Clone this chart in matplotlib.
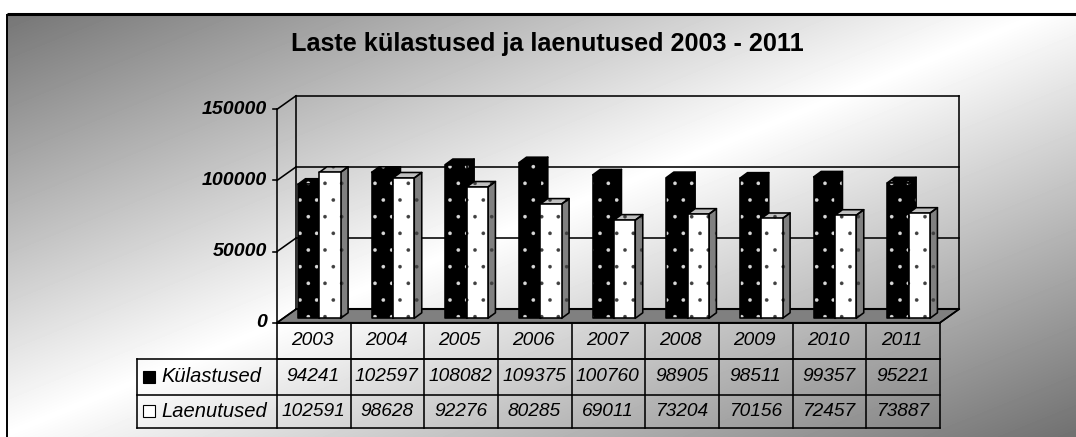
import numpy as np
import matplotlib
matplotlib.use('Agg')
import matplotlib.pyplot as plt
from matplotlib.patches import Polygon

plt.rcParams['font.family'] = ['Liberation Sans', 'DejaVu Sans']
plt.rcParams['hatch.linewidth'] = 0.2

title = 'Laste külastused ja laenutused 2003 - 2011'
years = ['2003', '2004', '2005', '2006', '2007', '2008', '2009', '2010', '2011']
visits = [94241, 102597, 108082, 109375, 100760, 98905, 98511, 99357, 95221]
loans = [102591, 98628, 92276, 80285, 69011, 73204, 70156, 72457, 73887]
visits_name = 'Külastused'
loans_name = 'Laenutused'
y_ticks = [0, 50000, 100000, 150000]

W, H = 1076, 437
fig = plt.figure(figsize=(W / 100, H / 100), dpi=100)

# background gradient, dark in two corners, white on the other diagonal
bg = fig.add_axes([0, 0, 1, 1], zorder=0)
xx, yy = np.meshgrid(np.linspace(0, 1, W), np.linspace(0, 1, H))
grad = 1 - 0.56 * np.abs(xx + yy - 1)
grad[:14, :] = 1
grad[:, :7] = 1
bg.imshow(grad, cmap='gray', vmin=0, vmax=1, extent=[0, W, H, 0], aspect='auto', interpolation='bilinear')
bg.plot([7, W], [14, 14], color='black', lw=2.2, solid_capstyle='butt')
bg.plot([7, 7], [14, H], color='black', lw=1.4, solid_capstyle='butt')
bg.set_xlim(0, W)
bg.set_ylim(H, 0)
bg.axis('off')

# main axes sit on the front plane of the fake 3d box
ax = fig.add_axes([277 / W, 1 - 322.7 / H, 663 / W, 213.4 / H], zorder=1)
ax.set_xlim(0, len(years))
ax.set_ylim(0, 150000)
ax.axis('off')
ax.patch.set_alpha(0)

PX_X = len(years) / 663.0
PX_Y = 150000 / 213.4
BOX_DX = 19 * PX_X
BOX_DY = 13.5 * PX_Y
LW = 1.15


def line(xs, ys, lw=LW, z=2):
    ax.plot(xs, ys, color='black', lw=lw, clip_on=False, zorder=z, solid_capstyle='projecting')


n = len(years)
ymax = y_ticks[-1]

# floor
ax.add_patch(Polygon([(0, 0), (n, 0), (n + BOX_DX, BOX_DY), (BOX_DX, BOX_DY)], closed=True,
                     facecolor='#808080', edgecolor='black', lw=LW, clip_on=False, zorder=1))
# walls and grid
line([BOX_DX, BOX_DX], [BOX_DY, ymax + BOX_DY])
line([n + BOX_DX, n + BOX_DX], [BOX_DY, ymax + BOX_DY])
line([0, 0], [0, ymax])
for t in y_ticks:
    line([-4 * PX_X, 0], [t, t])
    line([0, BOX_DX], [t, t + BOX_DY])
    line([BOX_DX, n + BOX_DX], [t + BOX_DY, t + BOX_DY], lw=LW if t else LW * 1.3)
    ax.text(-10 * PX_X, t, str(t), ha='right', va='center', fontsize=14, fontweight='bold',
            fontstyle='italic', color='black', clip_on=False)

BAR_W = 21.3 * PX_X
BAR_DX = 7.5 * PX_X
BAR_DY = 5.5 * PX_Y
BASE = 4.4 * PX_Y


def face(pts, fc, dot, z):
    ax.add_patch(Polygon(pts, closed=True, facecolor=fc, edgecolor=dot, hatch='.', lw=0,
                         clip_on=False, zorder=z))
    ax.add_patch(Polygon(pts, closed=True, fill=False, edgecolor='black', lw=LW,
                         clip_on=False, zorder=z + 0.1, joinstyle='round'))


def bar(x, val, front, top_c, side_c, dot, z):
    y0 = BASE
    y1 = BASE + val
    x1 = x + BAR_W
    face([(x1, y0), (x1 + BAR_DX, y0 + BAR_DY), (x1 + BAR_DX, y1 + BAR_DY), (x1, y1)], side_c, dot, z)
    face([(x, y1), (x1, y1), (x1 + BAR_DX, y1 + BAR_DY), (x + BAR_DX, y1 + BAR_DY)], top_c, dot, z)
    face([(x, y0), (x1, y0), (x1, y1), (x, y1)], front, dot, z + 0.2)


for i in range(n):
    bar(i + 0.285, visits[i], 'black', 'black', 'black', '#d8d8d8', 3 + i)
    bar(i + 0.285 + BAR_W, loans[i], 'white', '#c0c0c0', '#808080', '#404040', 3.5 + i)

# data table below the axis
rows = [0, -36 * PX_Y, -72.3 * PX_Y, -105.3 * PX_Y]
table_left = -140 * PX_X
line([0, n], [0, 0], lw=LW * 1.2, z=20)
for k in range(n + 1):
    line([k, k], [rows[0], rows[3]], z=20)
line([0, n], [rows[1], rows[1]], z=20)
for r in rows[1:]:
    line([table_left, n], [r, r], z=20)
line([table_left, table_left], [rows[1], rows[3]], z=20)
line([n, n + BOX_DX], [0, BOX_DY], z=20)

TXT = dict(ha='center', va='center', fontsize=13.8, fontstyle='italic', color='black', clip_on=False)
row_mid = [(rows[j] + rows[j + 1]) / 2 for j in range(3)]
for i in range(n):
    ax.text(i + 0.48, row_mid[0], years[i], **TXT)
    ax.text(i + 0.49, row_mid[1], str(visits[i]), **TXT)
    ax.text(i + 0.49, row_mid[2], str(loans[i]), **TXT)

key_x = -128.5 * PX_X
label_x = -116 * PX_X
ax.plot([key_x], [row_mid[1]], marker='s', ms=8.6, mfc='black', mec='black', mew=0.8, clip_on=False, zorder=21)
ax.plot([key_x], [row_mid[2]], marker='s', ms=8.2, mfc='white', mec='black', mew=0.8, clip_on=False, zorder=21)
ax.text(label_x, row_mid[1], visits_name, ha='left', va='center', fontsize=14.5, fontstyle='italic', clip_on=False)
ax.text(label_x, row_mid[2], loans_name, ha='left', va='center', fontsize=14.5, fontstyle='italic', clip_on=False)

fig.text(547.5 / W, 1 - 44 / H, title, ha='center', va='center', fontsize=18.2, fontweight='bold',
         color='black', zorder=5)

fig.savefig('out.png', dpi=100)
plt.close()
